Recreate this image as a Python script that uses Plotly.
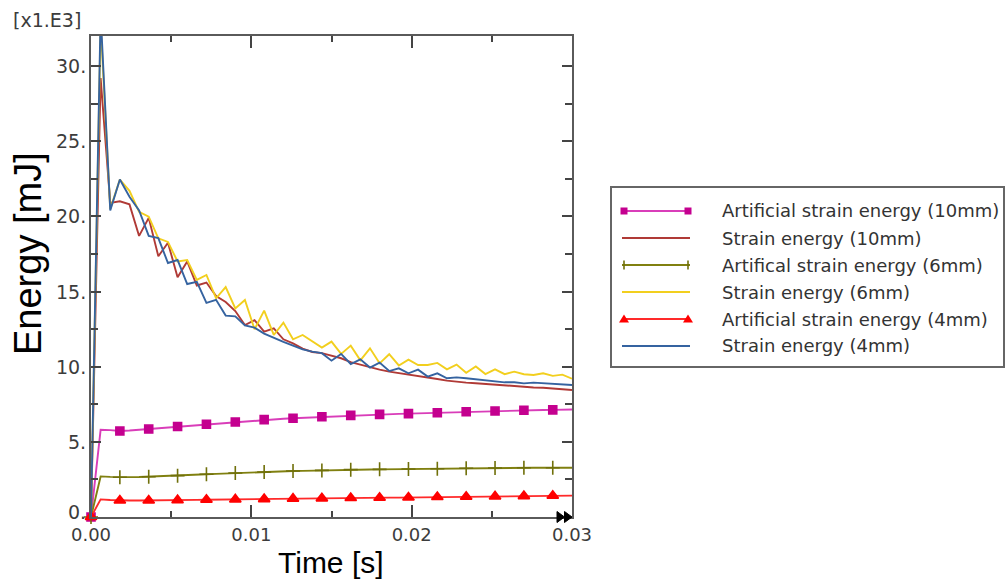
import plotly.graph_objects as go

# Time samples [s]
time_s = [0.0, 0.0006, 0.0012, 0.0018, 0.0024, 0.0030, 0.0036, 0.0042, 0.0048, 0.0054,
          0.0060, 0.0066, 0.0072, 0.0078, 0.0084, 0.0090, 0.0096, 0.0102, 0.0108, 0.0114,
          0.0120, 0.0126, 0.0132, 0.0138, 0.0144, 0.0150, 0.0156, 0.0162, 0.0168, 0.0174,
          0.0180, 0.0186, 0.0192, 0.0198, 0.0204, 0.0210, 0.0216, 0.0222, 0.0228, 0.0234,
          0.0240, 0.0246, 0.0252, 0.0258, 0.0264, 0.0270, 0.0276, 0.0282, 0.0288, 0.0294,
          0.0300]

# Energies in units of 1e3 mJ
art_10mm = [0.0, 5.80, 5.78, 5.72, 5.75, 5.80, 5.85, 5.91, 5.97, 6.02,
            6.07, 6.12, 6.17, 6.22, 6.27, 6.32, 6.37, 6.43, 6.48, 6.51,
            6.54, 6.57, 6.60, 6.64, 6.67, 6.70, 6.73, 6.76, 6.78, 6.81,
            6.83, 6.85, 6.86, 6.88, 6.90, 6.92, 6.94, 6.96, 6.98, 7.00,
            7.02, 7.04, 7.05, 7.07, 7.09, 7.10, 7.11, 7.12, 7.13, 7.14,
            7.15]
strain_10mm = [0.0, 29.2, 20.9, 21.0, 20.8, 18.7, 19.9, 17.35, 18.25, 15.95,
               17.0, 15.4, 15.6, 14.7, 14.3, 13.7, 12.77, 13.1, 12.33, 12.55,
               11.82, 11.55, 11.2, 10.98, 10.9, 10.75, 10.56, 10.3, 10.12, 9.95,
               9.8, 9.67, 9.58, 9.48, 9.4, 9.28, 9.18, 9.07, 8.98, 8.94,
               8.9, 8.85, 8.78, 8.74, 8.69, 8.65, 8.62, 8.6, 8.56, 8.52,
               8.45]
art_6mm = [0.0, 2.70, 2.67, 2.64, 2.65, 2.66, 2.68, 2.70, 2.72, 2.75,
           2.78, 2.81, 2.84, 2.87, 2.90, 2.93, 2.95, 2.97, 2.99, 3.01,
           3.04, 3.06, 3.07, 3.09, 3.10, 3.12, 3.14, 3.15, 3.16, 3.16,
           3.17, 3.18, 3.18, 3.19, 3.20, 3.20, 3.21, 3.22, 3.23, 3.24,
           3.25, 3.25, 3.26, 3.27, 3.27, 3.28, 3.28, 3.28, 3.28, 3.28,
           3.28]
strain_6mm = [0.0, 32.8, 20.5, 22.45, 21.7, 20.3, 19.98, 18.54, 18.3, 17.0,
              17.1, 15.77, 16.1, 14.55, 15.3, 13.88, 14.44, 12.49, 13.73, 12.11,
              12.93, 11.82, 12.11, 11.7, 11.27, 11.67, 10.85, 11.40, 10.42, 11.22,
              10.22, 10.83, 10.08, 10.47, 10.11, 10.11, 10.25, 9.82, 10.14, 9.60,
              10.02, 9.51, 9.82, 9.50, 9.67, 9.50, 9.45, 9.56, 9.39, 9.47,
              9.20]
art_4mm = [0.0, 1.17, 1.13, 1.10, 1.10, 1.10, 1.10, 1.11, 1.11, 1.12,
           1.13, 1.14, 1.15, 1.16, 1.16, 1.17, 1.18, 1.18, 1.19, 1.20,
           1.21, 1.22, 1.23, 1.23, 1.24, 1.25, 1.25, 1.26, 1.27, 1.27,
           1.28, 1.29, 1.29, 1.30, 1.31, 1.32, 1.33, 1.34, 1.34, 1.35,
           1.36, 1.36, 1.37, 1.38, 1.38, 1.39, 1.40, 1.40, 1.41, 1.41,
           1.42]
strain_4mm = [0.0, 33.5, 20.4, 22.45, 21.3, 20.4, 18.7, 18.55, 16.9, 17.1,
              15.5, 15.65, 14.25, 14.45, 13.4, 13.35, 12.75, 12.6, 12.2, 11.9,
              11.65, 11.4, 11.15, 11.0, 10.9, 10.4, 10.85, 10.18, 10.49, 9.94,
              10.27, 9.71, 9.89, 9.56, 9.8, 9.34, 9.56, 9.23, 9.29, 9.23,
              9.16, 9.05, 9.0, 8.96, 8.96, 8.89, 8.94, 8.89, 8.85, 8.83,
              8.78]

y_ticks = [0, 5, 10, 15, 20, 25, 30]
y_tick_text = ["0.", "5.", "10.", "15.", "20.", "25.", "30."]
x_ticks = [0.0, 0.01, 0.02, 0.03]
x_tick_text = ["0.00", "0.01", "0.02", "0.03"]

series = [
    dict(name="Artificial strain energy (10mm)", y=art_10mm, line="#D93DB9",
         mcolor="#C4008F", symbol="square", msize=8),
    dict(name="Strain energy (10mm)", y=strain_10mm, line="#B03A36"),
    dict(name="Artifical strain energy (6mm)", y=art_6mm, line="#808010",
         mcolor="#70700A", symbol="cross-thin", msize=10),
    dict(name="Strain energy (6mm)", y=strain_6mm, line="#F2CF1E"),
    dict(name="Artificial strain energy (4mm)", y=art_4mm, line="#FF2A2A",
         mcolor="#FF0000", symbol="triangle-up", msize=10),
    dict(name="Strain energy (4mm)", y=strain_4mm, line="#3563A0"),
]

W, H = 1006, 579
L, R, T, B = 91, 572, 36, 517  # plot area in pixels
PW, PH = R - L, B - T


def px(x):
    return (x - L) / PW


def py(y):
    return (B - y) / PH


fig = go.Figure()
step = 3  # one symbol every third sample
for s in series:
    fig.add_trace(go.Scatter(x=time_s, y=s["y"], mode="lines",
                             line=dict(color=s["line"], width=1.9),
                             showlegend=False, hoverinfo="skip"))
    if "symbol" in s:
        fig.add_trace(go.Scatter(
            x=time_s[::step], y=s["y"][::step], mode="markers",
            marker=dict(symbol=s["symbol"], size=s["msize"], color=s["mcolor"],
                        line=dict(color=s["mcolor"], width=1.6)),
            cliponaxis=False, showlegend=False, hoverinfo="skip"))

axis_col = "#5a5a5a"
tick_font = dict(family="DejaVu Sans", size=18, color="#3c3c3c")
fig.update_xaxes(range=[0, 0.03], tickvals=x_ticks, ticktext=x_tick_text,
                 ticks="inside", ticklen=12, tickwidth=2, tickcolor="#444",
                 minor=dict(dtick=0.005, ticks="inside", ticklen=6, tickwidth=2,
                            tickcolor="#444"),
                 showline=True, linecolor=axis_col, linewidth=2, mirror="ticks",
                 showgrid=False, zeroline=False, tickfont=tick_font)
fig.update_yaxes(range=[0, 32], tickvals=y_ticks, showticklabels=False,
                 ticks="inside", ticklen=10, tickwidth=2, tickcolor="#444",
                 minor=dict(dtick=2.5, ticks="inside", ticklen=7, tickwidth=2,
                            tickcolor="#444"),
                 showline=True, linecolor=axis_col, linewidth=2, mirror="ticks",
                 showgrid=False, zeroline=False)

shapes = []
annotations = []

# y tick labels, right-aligned next to the axis; the bottom one sits a bit higher
for v, txt in zip(y_ticks, y_tick_text):
    annotations.append(dict(text=txt, xref="paper", yref="y", x=px(88), y=v,
                            xanchor="right", yanchor="middle", showarrow=False,
                            yshift=5 if v == 0 else 0,
                            font=dict(family="DejaVu Sans", size=19, color="#3c3c3c")))

# scale factor label and axis titles
annotations.append(dict(text="[x1.E3]", xref="paper", yref="paper", x=px(11), y=py(20),
                        xanchor="left", yanchor="middle", showarrow=False,
                        font=dict(family="DejaVu Sans", size=19, color="#3c3c3c")))
annotations.append(dict(text="Time [s]", xref="paper", yref="paper", x=px(331), y=py(562),
                        xanchor="center", yanchor="middle", showarrow=False,
                        font=dict(family="Liberation Sans", size=30, color="#000")))
annotations.append(dict(text="Energy [mJ]", xref="paper", yref="paper", x=px(28), y=py(254),
                        xanchor="center", yanchor="middle", showarrow=False, textangle=-90,
                        font=dict(family="Liberation Sans", size=38, color="#000")))

# end-of-range arrows at the bottom right corner
for x0 in (557, 564.5):
    shapes.append(dict(type="path", xref="paper", yref="paper",
                       path=f"M {px(x0)} {py(511.5)} L {px(x0 + 7.5)} {py(517)} L {px(x0)} {py(522.5)} Z",
                       fillcolor="#000", line=dict(color="#000", width=1)))

# legend box
shapes.append(dict(type="rect", xref="paper", yref="paper", x0=px(611), x1=px(1004),
                   y0=py(367), y1=py(187), line=dict(color="#666", width=2),
                   fillcolor="white"))
row_y = [211, 238, 265, 292, 319, 346]
for s, yy in zip(series, row_y):
    shapes.append(dict(type="line", xref="paper", yref="paper", x0=px(622), x1=px(690),
                       y0=py(yy), y1=py(yy), line=dict(color=s["line"], width=1.9)))
    if "symbol" in s:
        c = s["mcolor"]
        for cx in (624, 688):
            if s["symbol"] == "square":
                shapes.append(dict(type="rect", xref="paper", yref="paper",
                                   x0=px(cx - 3.5), x1=px(cx + 3.5), y0=py(yy + 3.5),
                                   y1=py(yy - 3.5), fillcolor=c, line=dict(color=c, width=0)))
            elif s["symbol"] == "triangle-up":
                shapes.append(dict(type="path", xref="paper", yref="paper",
                                   path=f"M {px(cx - 5)} {py(yy + 3.5)} L {px(cx + 5)} {py(yy + 3.5)} L {px(cx)} {py(yy - 4.5)} Z",
                                   fillcolor=c, line=dict(color=c, width=0)))
            else:
                shapes.append(dict(type="line", xref="paper", yref="paper",
                                   x0=px(cx), x1=px(cx), y0=py(yy - 4.5), y1=py(yy + 4.5),
                                   line=dict(color=c, width=1.6)))
    annotations.append(dict(text=s["name"], xref="paper", yref="paper", x=px(720), y=py(yy),
                            xanchor="left", yanchor="middle", showarrow=False,
                            font=dict(family="DejaVu Sans", size=18, color="#333")))

fig.update_layout(width=W, height=H, margin=dict(l=L, r=W - R, t=T, b=H - B),
                  paper_bgcolor="white", plot_bgcolor="white",
                  shapes=shapes, annotations=annotations, showlegend=False)

fig.write_html("out.html")
